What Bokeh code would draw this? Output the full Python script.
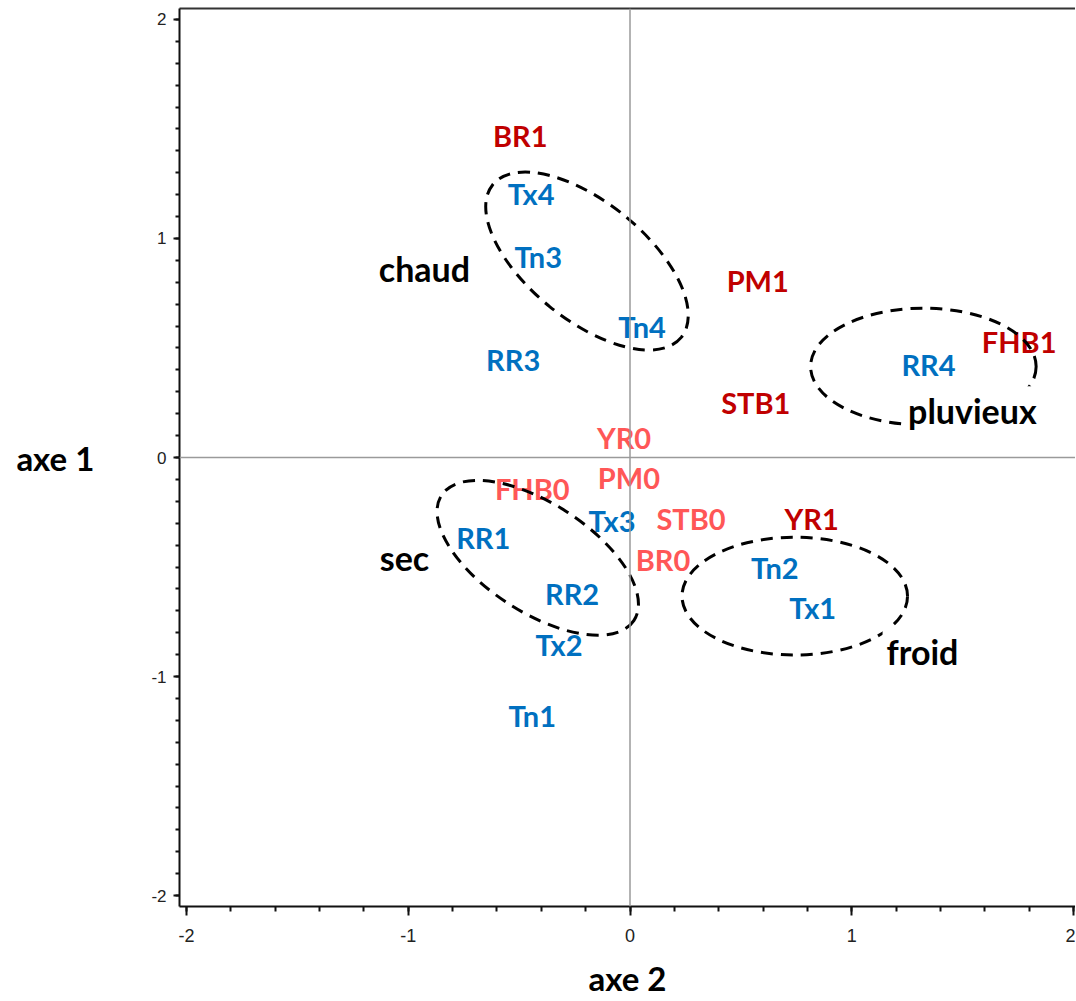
from bokeh.plotting import figure
from bokeh.models import Range1d, FixedTicker, Span, LinearAxis, ColumnDataSource
from bokeh.core.properties import value
from bokeh.embed import file_html
from bokeh.resources import INLINE

# ---- data ----
dark_labels = ["BR1", "PM1", "FHB1", "STB1", "YR1"]
dark_x = [-0.495, 0.576, 1.755, 0.567, 0.819]
dark_y = [1.47, 0.81, 0.53, 0.25, -0.28]

light_labels = ["YR0", "PM0", "FHB0", "STB0", "BR0"]
light_x = [-0.027, -0.005, -0.441, 0.275, 0.149]
light_y = [0.09, -0.09, -0.14, -0.28, -0.465]

blue_labels = ["Tx4", "Tn3", "Tn4", "RR3", "RR4", "Tx3", "RR1", "RR2", "Tn2", "Tx1", "Tx2", "Tn1"]
blue_x = [-0.446, -0.414, 0.054, -0.527, 1.346, -0.081, -0.662, -0.261, 0.653, 0.824, -0.32, -0.441]
blue_y = [1.207, 0.916, 0.597, 0.446, 0.424, -0.287, -0.364, -0.62, -0.501, -0.683, -0.852, -1.18]

group_labels = ["chaud", "pluvieux", "sec", "froid"]
group_x = [-0.927, 1.544, -1.017, 1.319]
group_y = [0.861, 0.214, -0.456, -0.888]

ell_x = [-0.194, 1.323, -0.416, 0.743]
ell_y = [0.897, 0.415, -0.458, -0.633]
ell_w = [1.094, 1.017, 1.035, 1.017]
ell_h = [0.538, 0.533, 0.497, 0.538]
ell_angle = [-39, 0, -33, 0]

x_ticks = [-2, -1, 0, 1, 2]
y_ticks = [-2, -1, 0, 1, 2]
tick_text = {-2: "-2", -1: "-1", 0: "0", 1: "1", 2: "2"}

FONT = "Lato"

p = figure(width=1075, height=1000, output_backend="svg", toolbar_location=None,
           x_range=Range1d(-2.0316, 2.009), y_range=Range1d(-2.05, 2.05),
           min_border_left=179, min_border_right=0, min_border_top=8, min_border_bottom=94)
p.grid.visible = False
p.outline_line_color = None
p.background_fill_color = "white"
p.border_fill_color = "white"

xminor = [round(-2 + 0.2 * i, 2) for i in range(21)]
yminor = [round(-2 + 0.1 * i, 2) for i in range(41)]

xa = p.xaxis[0]
xa.ticker = FixedTicker(ticks=x_ticks, minor_ticks=xminor)
xa.major_label_overrides = tick_text
xa.axis_line_width = 2
xa.axis_line_color = "#111111"
xa.major_tick_line_color = "#111111"
xa.minor_tick_line_color = "#111111"
xa.major_tick_line_width = 2
xa.minor_tick_line_width = 2
xa.major_tick_in = 0
xa.major_tick_out = 9
xa.minor_tick_in = 0
xa.minor_tick_out = 5
xa.major_label_standoff = 13
xa.major_label_text_font = "Liberation Sans"
xa.major_label_text_font_size = "18px"
xa.major_label_text_color = "#222222"
xa.axis_label = "axe 2"
xa.axis_label_text_font = FONT
xa.axis_label_text_font_style = "bold"
xa.axis_label_text_font_size = "33px"
xa.axis_label_text_color = "black"
xa.axis_label_standoff = 13

ya = p.yaxis[0]
ya.ticker = FixedTicker(ticks=y_ticks, minor_ticks=yminor)
ya.major_label_overrides = tick_text
ya.axis_line_width = 2
ya.axis_line_color = "#111111"
ya.major_tick_line_color = "#111111"
ya.minor_tick_line_color = "#111111"
ya.major_tick_line_width = 2
ya.minor_tick_line_width = 2
ya.major_tick_in = 0
ya.major_tick_out = 6
ya.minor_tick_in = 0
ya.minor_tick_out = 4
ya.major_label_standoff = 7
ya.major_label_text_font = "Liberation Sans"
ya.major_label_text_font_size = "17px"
ya.major_label_text_color = "#222222"
ya.axis_label = "axe 1"
ya.axis_label_orientation = "horizontal"
ya.axis_label_text_font = FONT
ya.axis_label_text_font_style = "bold"
ya.axis_label_text_font_size = "33px"
ya.axis_label_text_color = "black"
ya.axis_label_standoff = 54

top_axis = LinearAxis(ticker=FixedTicker(ticks=[]), major_label_text_font_size="0px",
                      major_tick_out=0, minor_tick_out=0, axis_line_width=2,
                      axis_line_color="#333333")
p.add_layout(top_axis, "above")

p.add_layout(Span(location=0, dimension="width", line_color="#9a9a9a", line_width=1.5))
p.add_layout(Span(location=0, dimension="height", line_color="#9a9a9a", line_width=1.5))

def add_text(labels, xs, ys, color, size="29px"):
    src = ColumnDataSource(dict(x=xs, y=ys, t=labels))
    p.text(x="x", y="y", text="t", source=src, text_color=color,
           text_font=value(FONT), text_font_style="bold", text_font_size=size,
           text_align="center", text_baseline="middle",
           background_fill_color="white", padding=4)

add_text(dark_labels, dark_x, dark_y, "#C00000")
add_text(light_labels, light_x, light_y, "#FF5757")
add_text(blue_labels, blue_x, blue_y, "#0070C0")

p.ellipse(x=ell_x, y=ell_y, width=ell_w, height=ell_h, angle=ell_angle, angle_units="deg",
          fill_color=None, line_color="black", line_width=3, line_dash="12 8")

add_text(group_labels, group_x, group_y, "black", size="34px")

open("out.html", "w").write(file_html(p, INLINE))
